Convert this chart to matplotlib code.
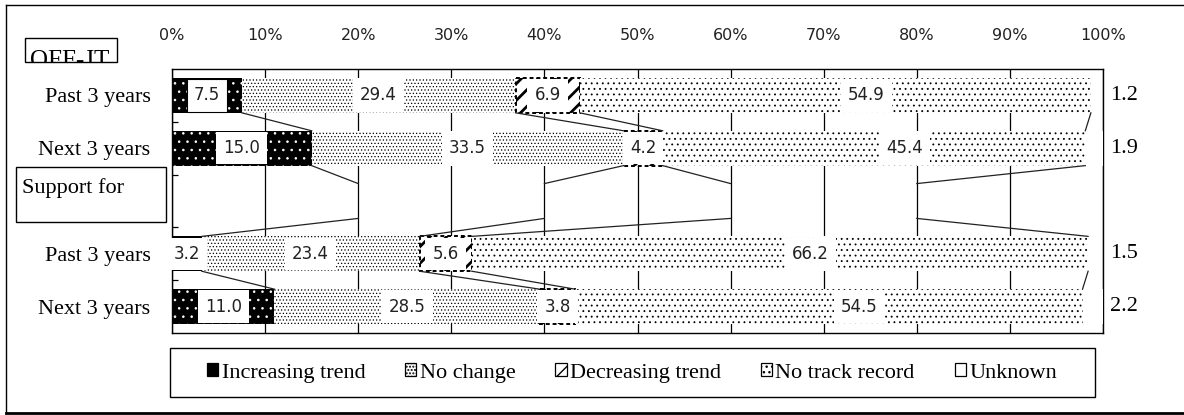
import numpy as np
import matplotlib
matplotlib.use("Agg")
import matplotlib.pyplot as plt
from matplotlib.patches import Rectangle, Patch
from matplotlib.lines import Line2D

W, H = 1184, 415

row_labels = ["Past 3 years", "Next 3 years", "", "Past 3 years", "Next 3 years"]
series_names = ["Increasing trend", "No change", "Decreasing trend",
                "No track record", "Unknown"]

increasing = [7.5, 15.0, 3.2, 11.0]
no_change  = [29.4, 33.5, 23.4, 28.5]
decreasing = [6.9, 4.2, 5.6, 3.8]
no_record  = [54.9, 45.4, 66.2, 54.5]
unknown    = [1.2, 1.9, 1.5, 2.2]
# invisible "Support for" row, only the series lines reach it
spacer     = [20, 20, 20, 20, 20]

bar_rows = [0, 1, 3, 4]
spacer_row = 2
bar_h = 0.66

styles = [
    dict(facecolor="black", edgecolor="white", hatch="..", linewidth=0),
    dict(facecolor="white", edgecolor="black", hatch=".....", linewidth=0),
    dict(facecolor="white", edgecolor="black", hatch="//", linewidth=1.4,
         linestyle=(0, (2, 1.5))),
    dict(facecolor="white", edgecolor="black", hatch="...", linewidth=0),
    dict(facecolor="white", edgecolor="white", linewidth=0),
]
hatch_lw = [0.6, 0.5, 2.0, 0.6, 0.5]
label_shift = [0, 0, 0, 3.3]   # excel labels for no track record sit a bit right

serif = ["Liberation Serif", "DejaVu Serif"]


def px(x, y):
    return x / W, 1 - y / H


fig = plt.figure(figsize=(W / 100, H / 100), dpi=100)
ax_l, ax_r, ax_t, ax_b = 172, 1103, 69, 333
ax = fig.add_axes([ax_l / W, 1 - ax_b / H, (ax_r - ax_l) / W, (ax_b - ax_t) / H])

data = np.array([increasing, no_change, decreasing, no_record, unknown])
cum = np.vstack([np.zeros(4), np.cumsum(data, axis=0)])

for k in range(5):
    with plt.rc_context({"hatch.linewidth": hatch_lw[k]}):
        bars = ax.barh(bar_rows, data[k], left=cum[k], height=bar_h,
                       zorder=2, **styles[k])
        for b in bars:
            if hasattr(b, "set_hatch_linewidth"):
                b.set_hatch_linewidth(hatch_lw[k])

# data labels
for k in range(4):
    for i, r in enumerate(bar_rows):
        v = data[k][i]
        x = cum[k][i] + v / 2 + label_shift[k]
        ec = "black" if (k == 0 and i == 0) else "none"
        ax.text(x, r, f"{v:.1f}", ha="center", va="center", fontsize=12,
                color="#222222", zorder=5,
                bbox=dict(boxstyle="square,pad=0.43", fc="white", ec=ec, lw=0.8))

for i, r in enumerate(bar_rows):
    ax.text(100.8, r, f"{unknown[i]:.1f}", ha="left", va="center",
            fontsize=16, family=serif, clip_on=False)

# series lines between neighbouring rows
all_cum = [cum[:, 0], cum[:, 1], np.concatenate([[0], np.cumsum(spacer)]),
           cum[:, 2], cum[:, 3]]
for r in range(4):
    for k in range(1, 5):
        ax.plot([all_cum[r][k], all_cum[r + 1][k]],
                [r + bar_h / 2, r + 1 - bar_h / 2],
                color="#222222", lw=0.9, zorder=3)

ax.set_xlim(0, 100)
ax.set_ylim(4.5, -0.5)
ax.xaxis.tick_top()
ax.set_xticks(range(0, 101, 10))
ax.set_xticklabels([f"{v}%" for v in range(0, 101, 10)], fontsize=11.5,
                   color="#222222")
ax.tick_params(axis="x", length=0, pad=18.5)
ax.set_yticks(bar_rows)
ax.set_yticklabels([row_labels[r] for r in bar_rows], fontsize=16, family=serif)
ax.tick_params(axis="y", which="major", length=0, pad=15.5)
ax.set_yticks([0.5, 1.5, 2.5, 3.5], minor=True)
ax.tick_params(axis="y", which="minor", direction="in", length=4.5,
               width=0.9, left=True, right=False)
ax.grid(axis="x", color="black", lw=0.9)
ax.set_axisbelow(True)
for sp in ax.spines.values():
    sp.set_color("black")
    sp.set_linewidth(1.0)
    sp.set_zorder(0.6)

# legend
handles = []
for k in range(5):
    st = dict(styles[k])
    st["linewidth"] = 0.9
    st["linestyle"] = "-"
    st["edgecolor"] = "black"
    if k == 0:
        st.pop("hatch")
    handles.append(Patch(**st))
leg = fig.legend(handles, series_names, loc="center", bbox_to_anchor=px(632, 373),
                 ncol=5, frameon=False, handlelength=0.5, handleheight=0.5,
                 handletextpad=0.15, columnspacing=1.8,
                 prop=dict(family=serif, size=16))
fig.patches.append(Rectangle(px(170, 397), (1095 - 170) / W, (397 - 348) / H,
                             transform=fig.transFigure, fill=False,
                             ec="black", lw=1.0))

# title boxes on the left
off_box = Rectangle(px(25, 62), (117 - 25) / W, (62 - 38) / H,
                    transform=fig.transFigure, fill=False, ec="black", lw=1.0)
fig.patches.append(off_box)
t = fig.text(*px(30, 67), "OFF-JT", fontsize=18, family=serif, va="baseline")
t.set_clip_path(Rectangle(px(25, 62), (117 - 25) / W, (62 - 38) / H,
                          transform=fig.transFigure))

fig.patches.append(Rectangle(px(16, 222), (166 - 16) / W, (222 - 167) / H,
                             transform=fig.transFigure, fill=False,
                             ec="black", lw=1.0))
fig.text(*px(22, 193), "Support for", fontsize=16, family=serif, va="baseline")

# outer frame
fig.lines.append(Line2D([6 / W, 1], [1 - 5 / H] * 2, transform=fig.transFigure,
                        color="black", lw=1.0))
fig.lines.append(Line2D([6 / W] * 2, [1 - 5 / H, 1 - 413 / H],
                        transform=fig.transFigure, color="black", lw=1.0))
fig.lines.append(Line2D([6 / W, 1], [1 - 413 / H] * 2, transform=fig.transFigure,
                        color="black", lw=2.0))

fig.savefig("out.png", dpi=100)
